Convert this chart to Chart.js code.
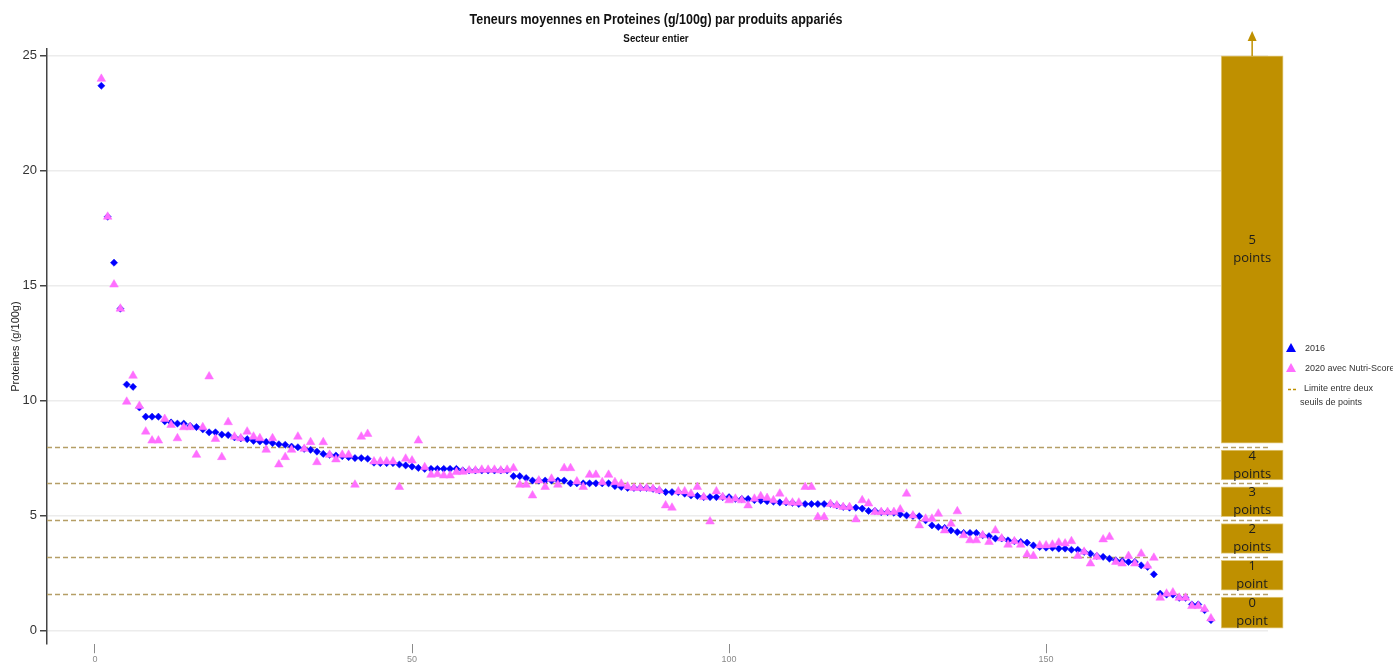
<!DOCTYPE html>
<html>
<head>
<meta charset="utf-8">
<script src="https://cdn.jsdelivr.net/npm/chart.js@4.4.1/dist/chart.umd.min.js"></script>
<style>
html, body { margin: 0; padding: 0; background: #fff; }
</style>
</head>
<body>
<canvas id="chart" width="1393" height="666"></canvas>
<script>
// teneurs moyennes par produit apparie (g/100g), tri par valeur 2016
var valeurs2016 = [23.7, 18.0, 16.0, 14.0, 10.7, 10.6, 9.7, 9.3, 9.3, 9.3,
	9.1, 9.05, 9.0, 9.0, 8.9, 8.85, 8.75, 8.62, 8.62, 8.52,
	8.5, 8.4, 8.36, 8.32, 8.25, 8.22, 8.2, 8.15, 8.1, 8.08,
	8.0, 7.97, 7.9, 7.86, 7.78, 7.68, 7.64, 7.61, 7.58, 7.54,
	7.5, 7.5, 7.47, 7.3, 7.28, 7.28, 7.28, 7.22, 7.18, 7.13,
	7.07, 7.03, 7.03, 7.03, 7.03, 7.03, 7.03, 6.96, 6.96, 6.96,
	6.96, 6.96, 6.96, 6.96, 6.96, 6.71, 6.71, 6.63, 6.52, 6.52,
	6.52, 6.52, 6.52, 6.52, 6.4, 6.4, 6.4, 6.4, 6.4, 6.4,
	6.4, 6.28, 6.24, 6.2, 6.2, 6.2, 6.2, 6.16, 6.09, 6.02,
	6.02, 6.02, 5.95, 5.87, 5.85, 5.8, 5.8, 5.8, 5.8, 5.8,
	5.72, 5.72, 5.72, 5.67, 5.65, 5.62, 5.6, 5.57, 5.57, 5.55,
	5.5, 5.5, 5.5, 5.5, 5.5, 5.5, 5.44, 5.37, 5.34, 5.34,
	5.3, 5.2, 5.2, 5.15, 5.15, 5.12, 5.05, 5.0, 4.98, 4.97,
	4.79, 4.57, 4.5, 4.46, 4.35, 4.28, 4.24, 4.24, 4.24, 4.14,
	4.1, 4.0, 4.0, 3.92, 3.88, 3.85, 3.82, 3.7, 3.63, 3.6,
	3.6, 3.56, 3.56, 3.51, 3.51, 3.42, 3.34, 3.24, 3.2, 3.12,
	3.05, 3.02, 2.98, 2.98, 2.83, 2.76, 2.44, 1.6, 1.56, 1.56,
	1.42, 1.42, 1.13, 1.13, 0.88, 0.45]

var valeurs2020 = [24.0, 18.0, 15.05, 14.0, 9.95, 11.08, 9.77, 8.65, 8.26, 8.26,
	9.2, 8.94, 8.36, 8.84, 8.84, 7.64, 8.84, 11.05, 8.33, 7.54,
	9.06, 8.43, 8.36, 8.65, 8.43, 8.36, 7.86, 8.36, 7.22, 7.54,
	7.86, 8.43, 7.9, 8.19, 7.32, 8.19, 7.64, 7.44, 7.64, 7.64,
	6.34, 8.43, 8.55, 7.35, 7.35, 7.35, 7.35, 6.24, 7.47, 7.39,
	8.26, 7.1, 6.77, 6.8, 6.74, 6.74, 6.89, 6.9, 6.96, 6.96,
	6.99, 6.99, 6.99, 6.96, 6.99, 7.06, 6.34, 6.34, 5.87, 6.52,
	6.24, 6.6, 6.34, 7.06, 7.06, 6.48, 6.24, 6.77, 6.77, 6.45,
	6.77, 6.45, 6.38, 6.26, 6.2, 6.2, 6.19, 6.16, 6.09, 5.44,
	5.34, 6.05, 6.05, 5.95, 6.24, 5.8, 4.74, 6.05, 5.8, 5.66,
	5.73, 5.66, 5.44, 5.73, 5.84, 5.76, 5.66, 5.95, 5.6, 5.56,
	5.56, 6.24, 6.24, 4.93, 4.93, 5.5, 5.44, 5.37, 5.37, 4.83,
	5.66, 5.52, 5.15, 5.15, 5.15, 5.15, 5.26, 5.95, 5.0, 4.57,
	4.86, 4.86, 5.08, 4.35, 4.64, 5.18, 4.14, 3.92, 3.92, 4.14,
	3.85, 4.35, 4.0, 3.73, 3.88, 3.73, 3.3, 3.24, 3.7, 3.7,
	3.73, 3.82, 3.78, 3.88, 3.24, 3.42, 2.91, 3.2, 3.96, 4.07,
	2.98, 2.91, 3.24, 2.91, 3.34, 2.81, 3.16, 1.42, 1.6, 1.65,
	1.42, 1.42, 1.06, 1.06, 0.93, 0.52]

// seuils Nutri-Score proteines
var seuils = [1.6, 3.2, 4.8, 6.4, 8.0]
var seuilHaut = 25
var pointsLabels = [['0', 'point'], ['1', 'point'], ['2', 'points'], ['3', 'points'], ['4', 'points'], ['5', 'points']]
var xTicks = [0, 50, 100, 150]
var yTicks = [0, 5, 10, 15, 20, 25]

var BLEU = '#0000FF', ROSE = '#FF6EFF', OR = '#BF9000', TIRET = '#B59E66'
var SANS = "'Liberation Sans', Arial, sans-serif"

var colonneX = 182.5
var bandes = []
for (var k = 0; k <= seuils.length; k++) {
	var lo = k == 0 ? 0 : seuils[k - 1]
	var hi = k == seuils.length ? seuilHaut : seuils[k]
	bandes.push({ x: colonneX, y: [lo + (k == 0 ? 0.1 : 0.15), hi - (k == seuils.length ? 0 : 0.15)] })
}

function toPoints(vals) {
	return vals.map(function (v, i) { return { x: i + 1, y: v } })
}

// texte etroit, comme l'original (Arial Narrow)
function narrowText(ctx, txt, x, y, sx) {
	ctx.save()
	ctx.translate(x, y)
	ctx.scale(sx, 1)
	ctx.fillText(txt, 0, 0)
	ctx.restore()
}

var decor = {
	id: 'decor'

	, beforeDatasetsDraw: function (chart) {
		var ctx = chart.ctx, a = chart.chartArea, y = chart.scales.y
		ctx.save()
		ctx.strokeStyle = TIRET
		ctx.lineWidth = 1.5
		ctx.setLineDash([5, 3])
		seuils.forEach(function (s) {
			var py = Math.round(y.getPixelForValue(s)) + 0.5
			ctx.beginPath()
			ctx.moveTo(a.left, py)
			ctx.lineTo(a.right, py)
			ctx.stroke()
		})
		ctx.restore()
	}

	, afterDatasetsDraw: function (chart) {
		var ctx = chart.ctx
		var meta = chart.getDatasetMeta(2)
		ctx.save()
		ctx.fillStyle = '#1c1c1c'
		ctx.font = "13px 'Open Sans', sans-serif"
		ctx.textAlign = 'center'
		ctx.textBaseline = 'middle'
		meta.data.forEach(function (el, i) {
			var cy = (el.y + el.base) / 2
			ctx.fillText(pointsLabels[i][0], el.x, cy - 9)
			ctx.fillText(pointsLabels[i][1], el.x, cy + 9)
		})
		// fleche au-dessus de la colonne 5 points
		var top = meta.data[meta.data.length - 1]
		ctx.strokeStyle = OR
		ctx.fillStyle = OR
		ctx.lineWidth = 1.5
		ctx.beginPath()
		ctx.moveTo(top.x, top.y)
		ctx.lineTo(top.x, top.y - 16)
		ctx.stroke()
		ctx.beginPath()
		ctx.moveTo(top.x, top.y - 25)
		ctx.lineTo(top.x - 4.5, top.y - 15)
		ctx.lineTo(top.x + 4.5, top.y - 15)
		ctx.closePath()
		ctx.fill()
		ctx.restore()
	}

	, afterDraw: function (chart) {
		var ctx = chart.ctx, a = chart.chartArea
		ctx.save()
		ctx.fillStyle = '#111'
		ctx.textAlign = 'center'
		ctx.textBaseline = 'middle'
		ctx.font = 'bold 14px ' + SANS
		narrowText(ctx, 'Teneurs moyennes en Proteines (g/100g) par produits appariés', 656, 20, 0.89)
		ctx.font = 'bold 11px ' + SANS
		narrowText(ctx, 'Secteur entier', 656, 39, 0.89)

		// legende
		var lx = a.right + 23
		function tri(x, y, col) {
			ctx.fillStyle = col
			ctx.beginPath()
			ctx.moveTo(x, y - 5)
			ctx.lineTo(x - 5, y + 4)
			ctx.lineTo(x + 5, y + 4)
			ctx.closePath()
			ctx.fill()
		}
		tri(lx, 348, BLEU)
		tri(lx, 368, ROSE)
		ctx.strokeStyle = OR
		ctx.lineWidth = 1.5
		ctx.setLineDash([3, 2])
		ctx.beginPath()
		ctx.moveTo(lx - 3, 389.5)
		ctx.lineTo(lx + 5, 389.5)
		ctx.stroke()
		ctx.fillStyle = '#333'
		ctx.textAlign = 'left'
		ctx.font = '9px ' + SANS
		ctx.fillText('2016', lx + 14, 349)
		ctx.fillText('2020 avec Nutri-Score', lx + 14, 369)
		ctx.fillText('Limite entre deux', lx + 13, 389)
		ctx.fillText('seuils de points', lx + 9, 403)
		ctx.restore()
	}
}

new Chart(document.getElementById('chart'), {
	type: 'scatter'
	, data: {
		datasets: [
			{
				label: '2016'
				, data: toPoints(valeurs2016)
				, pointStyle: 'rectRot'
				, pointRadius: 3.6
				, backgroundColor: BLEU
				, borderColor: BLEU
				, borderWidth: 0.5
				, order: 2
			}
			, {
				label: '2020 avec Nutri-Score'
				, data: toPoints(valeurs2020)
				, pointStyle: 'triangle'
				, pointRadius: 5
				, backgroundColor: ROSE
				, borderColor: ROSE
				, borderWidth: 0.5
				, order: 1
			}
			, {
				type: 'bar'
				, label: 'points'
				, data: bandes
				, backgroundColor: OR
				, borderColor: '#E3CB80'
				, borderWidth: 1
				, borderSkipped: false
				, barThickness: 62
				, clip: false
				, order: 3
			}
		]
	}
	, options: {
		responsive: false
		, animation: false
		, events: []
		, layout: { padding: { top: 49, right: 125, bottom: 0, left: 0 } }
		, plugins: {
			legend: { display: false }
			, tooltip: { enabled: false }
		}
		, scales: {
			x: {
				type: 'linear'
				, offset: false
				, min: -7.57
				, max: 185
				, afterBuildTicks: function (s) { s.ticks = xTicks.map(function (v) { return { value: v } }) }
				, border: { display: false }
				, grid: { offset: false, drawOnChartArea: false, tickLength: 9, tickColor: '#8a8a8a', lineWidth: 1 }
				, ticks: { color: '#8a8a8a', padding: 1, font: { size: 9, family: SANS } }
			}
			, y: {
				type: 'linear'
				, min: -0.6
				, max: 25.3
				, afterBuildTicks: function (s) { s.ticks = yTicks.map(function (v) { return { value: v } }) }
				, afterFit: function (s) { s.width = 47 }
				, border: { display: true, color: '#444', width: 1.5 }
				, grid: { color: '#ececec', lineWidth: 1.5, tickLength: 7, tickColor: '#444' }
				, ticks: { color: '#333', padding: 3, font: { size: 13, family: SANS } }
				, title: {
					display: true
					, text: 'Proteines (g/100g)'
					, color: '#222'
					, font: { size: 11, family: SANS }
					, padding: { top: 9, bottom: 0 }
				}
			}
		}
	}
	, plugins: [decor]
})
</script>
</body>
</html>
